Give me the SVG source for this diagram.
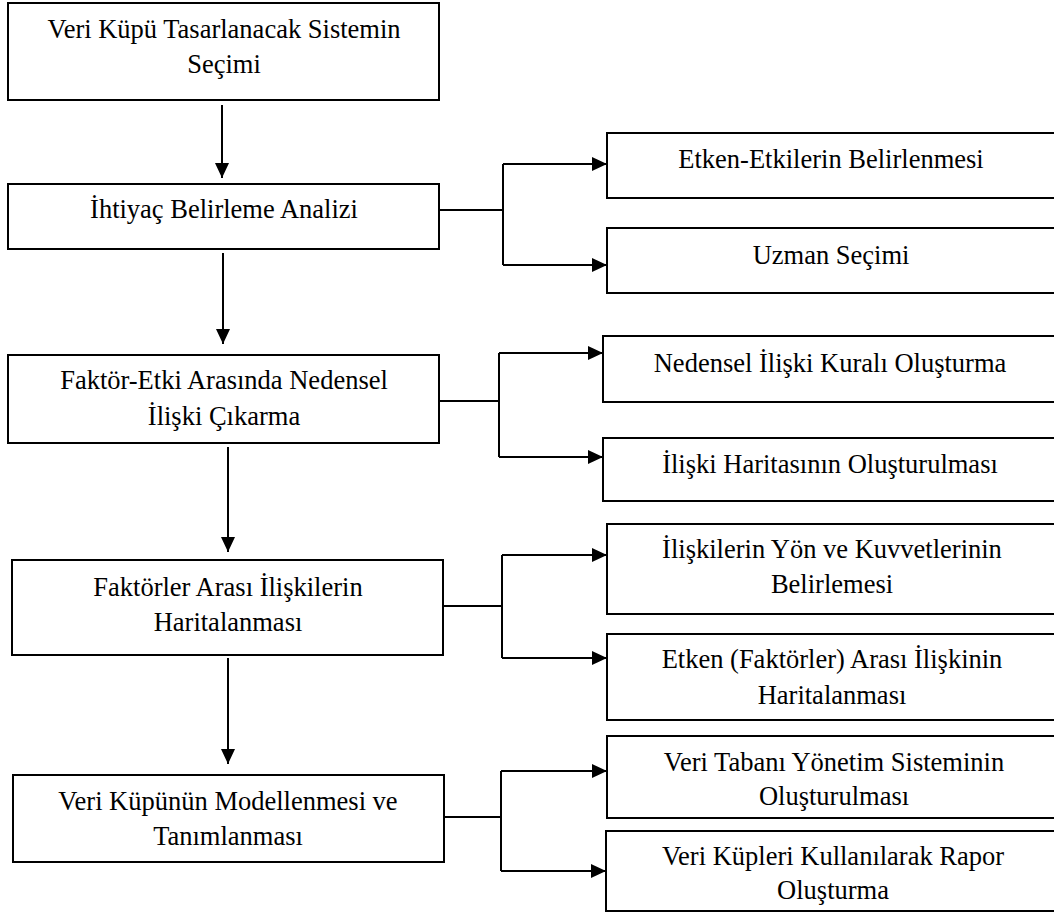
<svg xmlns="http://www.w3.org/2000/svg" width="1054" height="914" viewBox="0 0 1054 914" font-family="'Liberation Serif', 'Times New Roman', Times, serif">
<style>
.box{fill:#fff;stroke:#000;stroke-width:2}
text{font-family:'Liberation Serif','Times New Roman',Times,serif;font-size:26.5px;fill:#000;text-anchor:middle;font-weight:normal}
.c{fill:none;stroke:#000;stroke-width:2}
</style>
<defs>
<marker id="ah" viewBox="0 0 15 14" refX="15" refY="7" markerWidth="15" markerHeight="14" markerUnits="userSpaceOnUse" orient="auto">
<path d="M0,0 L15,7 L0,14 z" fill="#000"/>
</marker>
</defs>
<rect width="1054" height="914" fill="#fff"/>
<g id="n1"><rect class="box" x="8" y="3" width="431" height="97"/><text x="224" y="38">Veri Küpü Tasarlanacak Sistemin</text><text x="224" y="73">Seçimi</text></g>
<g id="n2"><rect class="box" x="8" y="184" width="431" height="65"/><text x="224" y="218">İhtiyaç Belirleme Analizi</text></g>
<g id="n3"><rect class="box" x="8" y="355" width="431" height="88"/><text x="224" y="389">Faktör-Etki Arasında Nedensel</text><text x="224" y="425">İlişki Çıkarma</text></g>
<g id="n4"><rect class="box" x="12" y="560" width="431" height="95"/><text x="228" y="596">Faktörler Arası İlişkilerin</text><text x="228" y="631">Haritalanması</text></g>
<g id="n5"><rect class="box" x="13" y="775" width="431" height="87"/><text x="228" y="810">Veri Küpünün Modellenmesi ve</text><text x="228" y="845">Tanımlanması</text></g>
<g id="r1"><rect class="box" x="607" y="133" width="460" height="65"/><text x="831" y="168">Etken-Etkilerin Belirlenmesi</text></g>
<g id="r2"><rect class="box" x="607" y="228" width="460" height="65"/><text x="831" y="264">Uzman Seçimi</text></g>
<g id="r3"><rect class="box" x="603" y="336" width="464" height="66"/><text x="830" y="372">Nedensel İlişki Kuralı Oluşturma</text></g>
<g id="r4"><rect class="box" x="603" y="438" width="464" height="63"/><text x="830" y="473">İlişki Haritasının Oluşturulması</text></g>
<g id="r5"><rect class="box" x="607" y="524" width="460" height="90"/><text x="832" y="558">İlişkilerin Yön ve Kuvvetlerinin</text><text x="832" y="593">Belirlemesi</text></g>
<g id="r6"><rect class="box" x="607" y="634" width="460" height="86"/><text x="832" y="668">Etken (Faktörler) Arası İlişkinin</text><text x="832" y="704">Haritalanması</text></g>
<g id="r7"><rect class="box" x="607" y="736" width="460" height="82"/><text x="834" y="771">Veri Tabanı Yönetim Sisteminin</text><text x="834" y="805">Oluşturulması</text></g>
<g id="r8"><rect class="box" x="606" y="831" width="461" height="80"/><text x="833" y="865">Veri Küpleri Kullanılarak Rapor</text><text x="833" y="899">Oluşturma</text></g>
<g id="connectors">
<line class="c" x1="222" y1="105" x2="222" y2="178" marker-end="url(#ah)"/>
<line class="c" x1="223" y1="253" x2="223" y2="344" marker-end="url(#ah)"/>
<line class="c" x1="228" y1="447" x2="228" y2="552" marker-end="url(#ah)"/>
<line class="c" x1="228" y1="658" x2="228" y2="764" marker-end="url(#ah)"/>
<path class="c" d="M439,210 H503 M503,164 V265"/>
<line class="c" x1="503" y1="164" x2="607" y2="164" marker-end="url(#ah)"/>
<line class="c" x1="503" y1="265" x2="607" y2="265" marker-end="url(#ah)"/>
<path class="c" d="M439,401 H499 M499,353 V457"/>
<line class="c" x1="499" y1="353" x2="603" y2="353" marker-end="url(#ah)"/>
<line class="c" x1="499" y1="457" x2="603" y2="457" marker-end="url(#ah)"/>
<path class="c" d="M443,606 H502 M502,555 V658"/>
<line class="c" x1="502" y1="555" x2="607" y2="555" marker-end="url(#ah)"/>
<line class="c" x1="502" y1="658" x2="607" y2="658" marker-end="url(#ah)"/>
<path class="c" d="M444,817 H501 M501,771 V871"/>
<line class="c" x1="501" y1="771" x2="607" y2="771" marker-end="url(#ah)"/>
<line class="c" x1="501" y1="871" x2="606" y2="871" marker-end="url(#ah)"/>
</g>
</svg>
